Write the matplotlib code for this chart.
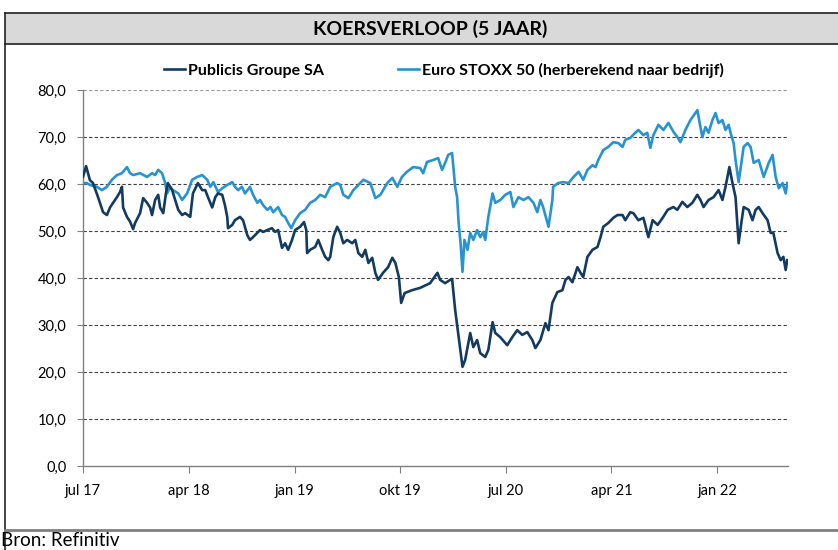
import matplotlib
matplotlib.use("Agg")
import matplotlib.pyplot as plt
from matplotlib.lines import Line2D
from matplotlib.patches import Rectangle
import pandas as pd

plt.rcParams['font.family'] = ['Lato', 'DejaVu Sans']

title = "KOERSVERLOOP (5 JAAR)"
source = "Bron: Refinitiv"
series_names = ["Publicis Groupe SA", "Euro STOXX 50 (herberekend naar bedrijf)"]

pub_dates = [
    "2017-07-01", "2017-07-09", "2017-07-19", "2017-07-27", "2017-08-09", "2017-08-22", "2017-09-01", "2017-09-09",
    "2017-09-17", "2017-09-27", "2017-10-05", "2017-10-10", "2017-10-13", "2017-10-23", "2017-10-31", "2017-11-08",
    "2017-11-13", "2017-11-26", "2017-12-04", "2017-12-14", "2017-12-22", "2017-12-27", "2018-01-04", "2018-01-12",
    "2018-01-17", "2018-01-25", "2018-02-01", "2018-02-06", "2018-02-17", "2018-02-25", "2018-03-05", "2018-03-15",
    "2018-03-23", "2018-04-05", "2018-04-12", "2018-04-25", "2018-05-06", "2018-05-14", "2018-05-22", "2018-06-01",
    "2018-06-09", "2018-06-16", "2018-06-27", "2018-07-04", "2018-07-10", "2018-07-12", "2018-07-23", "2018-07-30",
    "2018-08-12", "2018-08-20", "2018-08-31", "2018-09-07", "2018-09-15", "2018-09-26", "2018-10-03", "2018-10-11",
    "2018-10-22", "2018-11-03", "2018-11-11", "2018-11-19", "2018-11-29", "2018-12-07", "2018-12-15", "2018-12-25",
    "2019-01-02", "2019-01-15", "2019-01-25", "2019-01-31", "2019-02-02", "2019-02-10", "2019-02-23", "2019-03-03",
    "2019-03-13", "2019-03-21", "2019-03-29", "2019-04-03", "2019-04-11", "2019-04-21", "2019-04-29", "2019-05-07",
    "2019-05-17", "2019-05-30", "2019-06-07", "2019-06-15", "2019-06-25", "2019-07-03", "2019-07-11", "2019-07-21",
    "2019-07-29", "2019-08-05", "2019-08-18", "2019-08-31", "2019-09-11", "2019-09-19", "2019-09-28", "2019-10-04",
    "2019-10-13", "2019-11-01", "2019-11-22", "2019-12-18", "2020-01-06", "2020-01-13", "2020-01-26", "2020-02-08",
    "2020-02-13", "2020-02-21", "2020-03-01", "2020-03-11", "2020-03-18", "2020-03-31", "2020-04-08", "2020-04-18",
    "2020-04-26", "2020-05-09", "2020-05-17", "2020-05-28", "2020-06-04", "2020-06-17", "2020-07-05", "2020-07-18",
    "2020-07-31", "2020-08-13", "2020-08-26", "2020-09-08", "2020-09-16", "2020-09-29", "2020-10-12", "2020-10-20",
    "2020-10-30", "2020-11-12", "2020-11-25", "2020-12-03", "2020-12-11", "2020-12-21", "2021-01-03", "2021-01-11",
    "2021-01-18", "2021-01-29", "2021-02-11", "2021-02-24", "2021-03-04", "2021-03-11", "2021-03-24", "2021-04-06",
    "2021-04-17", "2021-04-30", "2021-05-07", "2021-05-20", "2021-05-28", "2021-06-10", "2021-06-23", "2021-07-06",
    "2021-07-17", "2021-07-30", "2021-08-12", "2021-08-25", "2021-09-09", "2021-09-19", "2021-10-02", "2021-10-15",
    "2021-10-28", "2021-11-10", "2021-11-18", "2021-11-26", "2021-12-09", "2021-12-22", "2022-01-04", "2022-01-14",
    "2022-01-22", "2022-02-01", "2022-02-09", "2022-02-17", "2022-02-25", "2022-03-05", "2022-03-10", "2022-03-23",
    "2022-04-02", "2022-04-10", "2022-04-18", "2022-04-28", "2022-05-11", "2022-05-19", "2022-05-26", "2022-06-06",
    "2022-06-14", "2022-06-21", "2022-06-27", "2022-07-01",
]
pub_values = [
    61.5, 63.8, 60.8, 60.2, 57.2, 54.0, 53.4, 55.0,
    56.0, 57.2, 58.3, 59.4, 55.0, 53.0, 52.0, 50.4,
    51.7, 53.8, 57.0, 56.0, 55.0, 53.4, 56.6, 57.7,
    55.0, 53.8, 58.0, 60.2, 58.7, 56.6, 54.5, 53.4,
    53.8, 53.0, 58.0, 60.2, 58.7, 58.7, 57.0, 55.0,
    57.2, 58.0, 57.7, 55.5, 53.0, 50.6, 51.3, 52.3,
    53.0, 52.3, 49.1, 48.1, 48.7, 49.6, 50.2, 49.8,
    50.2, 50.6, 49.8, 50.2, 46.4, 47.4, 46.0, 48.1,
    50.2, 50.9, 51.9, 50.2, 45.3, 46.0, 46.6, 48.1,
    46.0, 44.5, 43.8, 44.5, 48.7, 50.9, 49.6, 47.4,
    48.1, 47.4, 48.1, 45.3, 44.5, 46.0, 43.2, 44.3,
    41.1, 39.6, 41.1, 42.3, 44.3, 43.2, 40.2, 34.7,
    36.8, 37.4, 37.9, 38.9, 41.1, 39.6, 38.9, 39.6,
    39.8, 33.2, 27.4, 21.1, 22.6, 28.3, 25.3, 26.8,
    24.0, 23.2, 24.7, 30.6, 28.3, 27.4, 25.7, 27.4,
    28.9, 27.9, 28.5, 26.8, 25.1, 26.8, 30.4, 28.9,
    34.7, 37.0, 37.4, 39.6, 40.2, 39.1, 42.3, 41.1,
    40.2, 44.5, 46.0, 46.6, 48.7, 50.9, 51.7, 52.8,
    53.4, 53.4, 52.3, 54.0, 53.8, 52.3, 52.8, 48.7,
    52.3, 51.3, 52.8, 54.5, 55.1, 54.5, 56.2, 55.1,
    56.0, 57.7, 56.6, 55.1, 56.6, 57.2, 58.7, 56.6,
    59.4, 63.6, 60.2, 57.2, 47.4, 52.3, 55.1, 54.5,
    52.3, 54.5, 55.1, 53.8, 52.3, 49.6, 49.6, 45.3,
    43.8, 44.5, 41.7, 43.8,
]

stoxx_dates = [
    "2017-07-01", "2017-07-11", "2017-07-19", "2017-08-06", "2017-08-19", "2017-09-01", "2017-09-14", "2017-09-27",
    "2017-10-10", "2017-10-23", "2017-10-31", "2017-11-08", "2017-11-26", "2017-12-14", "2017-12-27", "2018-01-04",
    "2018-01-12", "2018-01-22", "2018-01-30", "2018-02-04", "2018-02-12", "2018-02-19", "2018-03-05", "2018-03-15",
    "2018-03-28", "2018-04-10", "2018-04-23", "2018-05-06", "2018-05-19", "2018-05-27", "2018-06-04", "2018-06-16",
    "2018-06-27", "2018-07-10", "2018-07-23", "2018-07-30", "2018-08-07", "2018-08-17", "2018-08-25", "2018-09-07",
    "2018-09-15", "2018-09-26", "2018-10-03", "2018-10-11", "2018-10-22", "2018-10-30", "2018-11-06", "2018-11-19",
    "2018-11-29", "2018-12-07", "2018-12-15", "2018-12-23", "2019-01-02", "2019-01-15", "2019-01-28", "2019-02-10",
    "2019-02-23", "2019-03-08", "2019-03-21", "2019-04-03", "2019-04-21", "2019-04-29", "2019-05-07", "2019-05-20",
    "2019-06-02", "2019-06-15", "2019-06-28", "2019-07-16", "2019-07-29", "2019-08-11", "2019-08-29", "2019-09-11",
    "2019-09-24", "2019-10-06", "2019-10-19", "2019-11-04", "2019-11-22", "2019-11-30", "2019-12-10", "2019-12-26",
    "2020-01-08", "2020-01-18", "2020-01-26", "2020-02-03", "2020-02-13", "2020-02-21", "2020-02-26", "2020-03-01",
    "2020-03-06", "2020-03-11", "2020-03-16", "2020-03-24", "2020-03-31", "2020-04-08", "2020-04-18", "2020-04-26",
    "2020-05-04", "2020-05-09", "2020-05-17", "2020-05-28", "2020-06-04", "2020-06-17", "2020-06-30", "2020-07-13",
    "2020-07-21", "2020-08-03", "2020-08-16", "2020-08-29", "2020-09-11", "2020-09-21", "2020-09-29", "2020-10-06",
    "2020-10-20", "2020-10-30", "2020-11-01", "2020-11-14", "2020-11-27", "2020-12-11", "2020-12-24", "2021-01-06",
    "2021-01-18", "2021-01-29", "2021-02-11", "2021-02-19", "2021-02-26", "2021-03-11", "2021-03-24", "2021-04-06",
    "2021-04-19", "2021-04-30", "2021-05-07", "2021-05-20", "2021-06-02", "2021-06-10", "2021-06-23", "2021-07-03",
    "2021-07-11", "2021-07-19", "2021-08-01", "2021-08-14", "2021-08-27", "2021-09-09", "2021-09-19", "2021-09-27",
    "2021-10-10", "2021-10-23", "2021-11-10", "2021-11-18", "2021-11-23", "2021-12-01", "2021-12-09", "2021-12-19",
    "2021-12-27", "2022-01-04", "2022-01-14", "2022-01-22", "2022-01-30", "2022-02-04", "2022-02-12", "2022-02-17",
    "2022-02-25", "2022-03-05", "2022-03-10", "2022-03-20", "2022-03-28", "2022-04-05", "2022-04-18", "2022-05-01",
    "2022-05-14", "2022-05-24", "2022-06-01", "2022-06-09", "2022-06-19", "2022-06-27", "2022-07-01",
]
stoxx_values = [
    60.2, 60.2, 59.8, 59.4, 58.7, 59.4, 60.9, 61.9,
    62.3, 63.6, 62.3, 61.9, 62.3, 61.5, 62.3, 61.9,
    63.0, 62.3, 60.2, 58.0, 59.4, 58.7, 58.0, 56.6,
    58.0, 60.9, 61.5, 61.9, 60.9, 59.4, 60.4, 58.3,
    59.1, 59.8, 60.4, 59.4, 58.7, 59.4, 58.0, 59.4,
    57.7, 56.0, 56.6, 55.5, 54.5, 55.1, 54.0, 55.1,
    53.4, 53.0, 51.7, 50.6, 52.3, 53.8, 54.5, 56.0,
    56.6, 57.7, 57.2, 59.4, 60.2, 59.8, 57.7, 57.0,
    58.7, 59.8, 60.9, 60.2, 57.0, 57.7, 60.2, 61.3,
    59.4, 61.5, 62.6, 63.6, 63.4, 62.3, 64.7, 65.1,
    65.5, 63.0, 64.5, 66.2, 66.6, 59.4, 57.2, 51.7,
    47.4, 41.3, 48.1, 46.0, 49.6, 48.1, 50.2, 48.7,
    49.8, 48.1, 53.0, 58.0, 56.0, 56.6, 57.7, 58.3,
    55.1, 57.2, 56.6, 57.2, 56.0, 54.0, 56.6, 55.1,
    50.9, 56.6, 59.4, 60.2, 60.4, 60.2, 61.5, 62.6,
    60.9, 63.0, 64.0, 63.6, 65.1, 67.2, 67.9, 68.9,
    68.7, 67.9, 69.4, 69.8, 70.9, 71.5, 70.4, 70.9,
    67.7, 70.4, 72.6, 71.5, 73.0, 71.1, 70.0, 68.9,
    71.5, 73.6, 75.7, 72.1, 70.0, 72.1, 70.9, 73.6,
    75.1, 73.0, 73.6, 71.5, 72.6, 70.9, 68.7, 65.1,
    60.4, 65.1, 67.9, 68.7, 67.9, 64.5, 65.1, 61.5,
    64.5, 66.2, 61.5, 59.1, 60.2, 58.0, 60.2,
]

y_ticks = [0, 10, 20, 30, 40, 50, 60, 70, 80]
x_tick_dates = ["2017-07-01", "2018-04-01", "2019-01-01", "2019-10-01", "2020-07-01", "2021-04-01", "2022-01-01"]
x_tick_labels = ["jul 17", "apr 18", "jan 19", "okt 19", "jul 20", "apr 21", "jan 22"]

dark = "#133b62"
light = "#2893d2"

W, H = 838, 550
fig = plt.figure(figsize=(W / 100, H / 100), dpi=100)

def fx(px):
    return px / W

def fy(py):
    return 1 - py / H

# frame and title band
fig.add_artist(Rectangle((fx(5), fy(44)), 1 - fx(5), fy(13) - fy(44), transform=fig.transFigure,
                         facecolor="#d9d9d9", edgecolor="none", zorder=0))
fig.add_artist(Line2D([fx(5), 1], [fy(13), fy(13)], transform=fig.transFigure, color="#222222", lw=1.2))
fig.add_artist(Line2D([fx(5), 1], [fy(44), fy(44)], transform=fig.transFigure, color="#222222", lw=1.2))
fig.add_artist(Line2D([fx(5), fx(5)], [fy(13), 0], transform=fig.transFigure, color="#222222", lw=1.2))
fig.add_artist(Line2D([fx(5), 1], [fy(530), fy(530)], transform=fig.transFigure, color="#808080", lw=2.0))
fig.text(fx(430), fy(29), title, ha="center", va="center", fontsize=14, fontweight="bold", color="black")
fig.text(fx(1), fy(541), source, ha="left", va="center", fontsize=13.5, color="black")

ax = fig.add_axes([fx(83), fy(466), fx(788) - fx(83), fy(90) - fy(466)])

pd_pub = pd.to_datetime(pub_dates)
pd_stx = pd.to_datetime(stoxx_dates)
l1, = ax.plot(pd_pub, pub_values, color=dark, lw=1.9, zorder=3, label=series_names[0])
l2, = ax.plot(pd_stx, stoxx_values, color=light, lw=1.9, zorder=2, label=series_names[1])

ax.set_ylim(0, 80)
ax.set_xlim(pd.Timestamp("2017-07-01"), pd.Timestamp("2022-07-03"))
ax.set_yticks(y_ticks)
ax.set_yticklabels([f"{v:.1f}".replace(".", ",") for v in y_ticks])
ax.set_xticks(pd.to_datetime(x_tick_dates))
ax.set_xticklabels(x_tick_labels)

for v in y_ticks[1:]:
    ax.axhline(v, color="#404040" if v < 80 else "#9a9a9a", lw=0.8, ls=(0, (3, 2)), zorder=1)

for s in ["top", "right"]:
    ax.spines[s].set_visible(False)
for s in ["left", "bottom"]:
    ax.spines[s].set_color("#808080")
    ax.spines[s].set_linewidth(1.0)
ax.tick_params(axis="both", colors="#808080", labelcolor="black", labelsize=10.5, direction="out")
ax.tick_params(axis="y", length=4, pad=8)
ax.tick_params(axis="x", length=5, pad=8)

fig.legend(handles=[l1, l2], loc="center", bbox_to_anchor=(fx(444), fy(70)), ncol=2, frameon=False,
           handlelength=1.3, handletextpad=0.2, columnspacing=4.6,
           prop={"size": 11.5, "weight": "bold"})

fig.savefig("out.png", dpi=100)
